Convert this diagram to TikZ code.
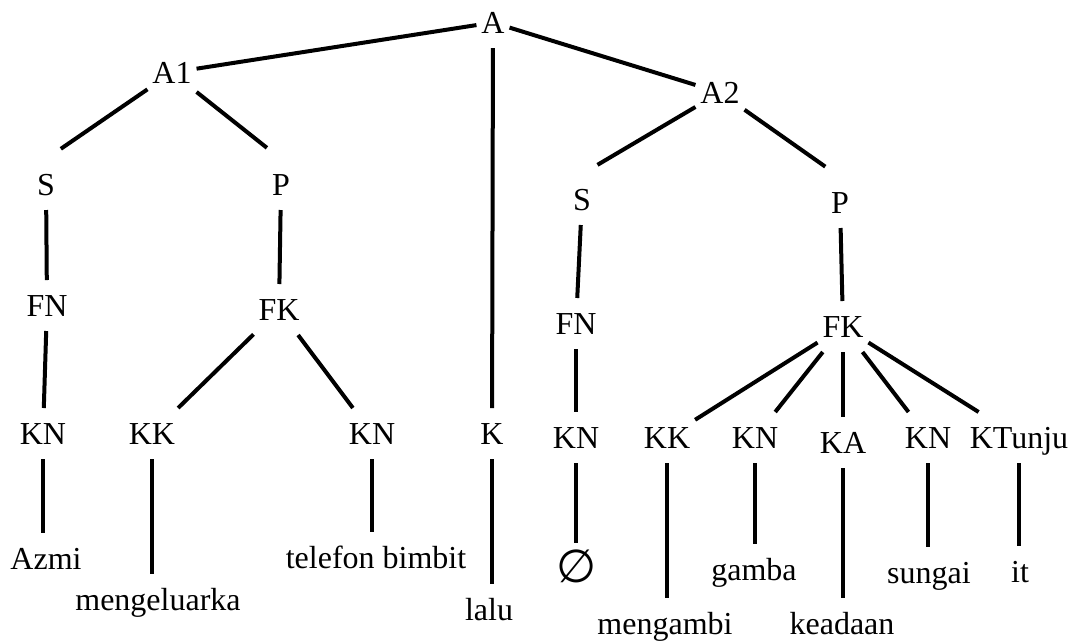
\documentclass[tikz,border=0pt]{standalone}
\usepackage{fontspec}
\setmainfont{Liberation Serif}
\newfontfamily\symfont{DejaVu Sans}
\usepackage{tikz}

\begin{document}
\begin{tikzpicture}[x=1pt,y=-1pt,line width=4pt,
  lbl/.style={anchor=base,inner xsep=3pt,inner ysep=13pt,text height=21pt,text depth=0pt,font=\fontsize{32}{38}\selectfont}]
\useasboundingbox (0,0) rectangle (1078,641);
\node[lbl] (a) at (493,33) {A};
\node[lbl] (a1) at (172,83) {A1};
\node[lbl] (a2) at (720,103) {A2};
\node[lbl] (s1) at (46,195) {S};
\node[lbl] (p1) at (281,195) {P};
\node[lbl] (s2) at (582,210) {S};
\node[lbl] (p2) at (840,213) {P};
\node[lbl] (fn1) at (47,316) {FN};
\node[lbl] (fk1) at (279,320) {FK};
\node[lbl] (fn2) at (576,334) {FN};
\node[lbl] (fk2) at (843,337) {FK};
\node[lbl] (kn1) at (43,444) {KN};
\node[lbl] (kk1) at (152,444) {KK};
\node[lbl] (kn2) at (372,444) {KN};
\node[lbl] (k) at (492,444) {K};
\node[lbl] (kn3) at (576,448) {KN};
\node[lbl] (kk2) at (667,448) {KK};
\node[lbl] (kn4) at (755,448) {KN};
\node[lbl] (ka) at (843,453) {KA};
\node[lbl] (kn5) at (928,448) {KN};
\node[lbl] (kt) at (1019,448) {KTunju};
\node[lbl] (azmi) at (46,569) {Azmi};
\node[lbl] (meng) at (158,610) {mengeluarka};
\node[lbl] (tel) at (376,568) {telefon bimbit};
\node[lbl] (lalu) at (489,620) {lalu};
\node[inner sep=4pt,font=\symfont\fontsize{46}{50}\selectfont] (nul) at (577,566) {∅};
\node[lbl] (ambil) at (665,634) {mengambi};
\node[lbl] (gmb) at (754,580) {gamba};
\node[lbl] (kead) at (842,634) {keadaan};
\node[lbl] (sng) at (929,583) {sungai};
\node[lbl] (it) at (1020,582) {it};
\draw (a) -- (a1);
\draw (a) -- (a2);
\draw (a) -- (k);
\draw[shorten >=18pt] (a1) -- (s1.north);
\draw[shorten >=18pt] (a1) -- (p1.north);
\draw (s1) -- (fn1);
\draw (p1) -- (fk1);
\draw (fn1) -- (kn1);
\draw (fk1) -- (kk1);
\draw (fk1) -- (kn2);
\draw[shorten >=18pt] (a2) -- (s2.north);
\draw[shorten >=18pt] (a2) -- (p2.north);
\draw (s2) -- (fn2);
\draw (p2) -- (fk2);
\draw (fn2) -- (kn3);
\draw (fk2) -- (kk2);
\draw (fk2) -- (kn4);
\draw (fk2) -- (ka);
\draw (fk2) -- (kn5);
\draw (fk2) -- (kt);
\draw (kn1) -- (kn1 |- azmi.north);
\draw (kk1) -- (kk1 |- meng.north);
\draw (kn2) -- (kn2 |- tel.north);
\draw (k) -- (k |- lalu.north);
\draw (kn3) -- (kn3 |- nul.north);
\draw (kk2) -- (kk2 |- ambil.north);
\draw (kn4) -- (kn4 |- gmb.north);
\draw (ka) -- (ka |- kead.north);
\draw (kn5) -- (kn5 |- sng.north);
\draw (kt) -- (kt |- it.north);
\end{tikzpicture}
\end{document}
